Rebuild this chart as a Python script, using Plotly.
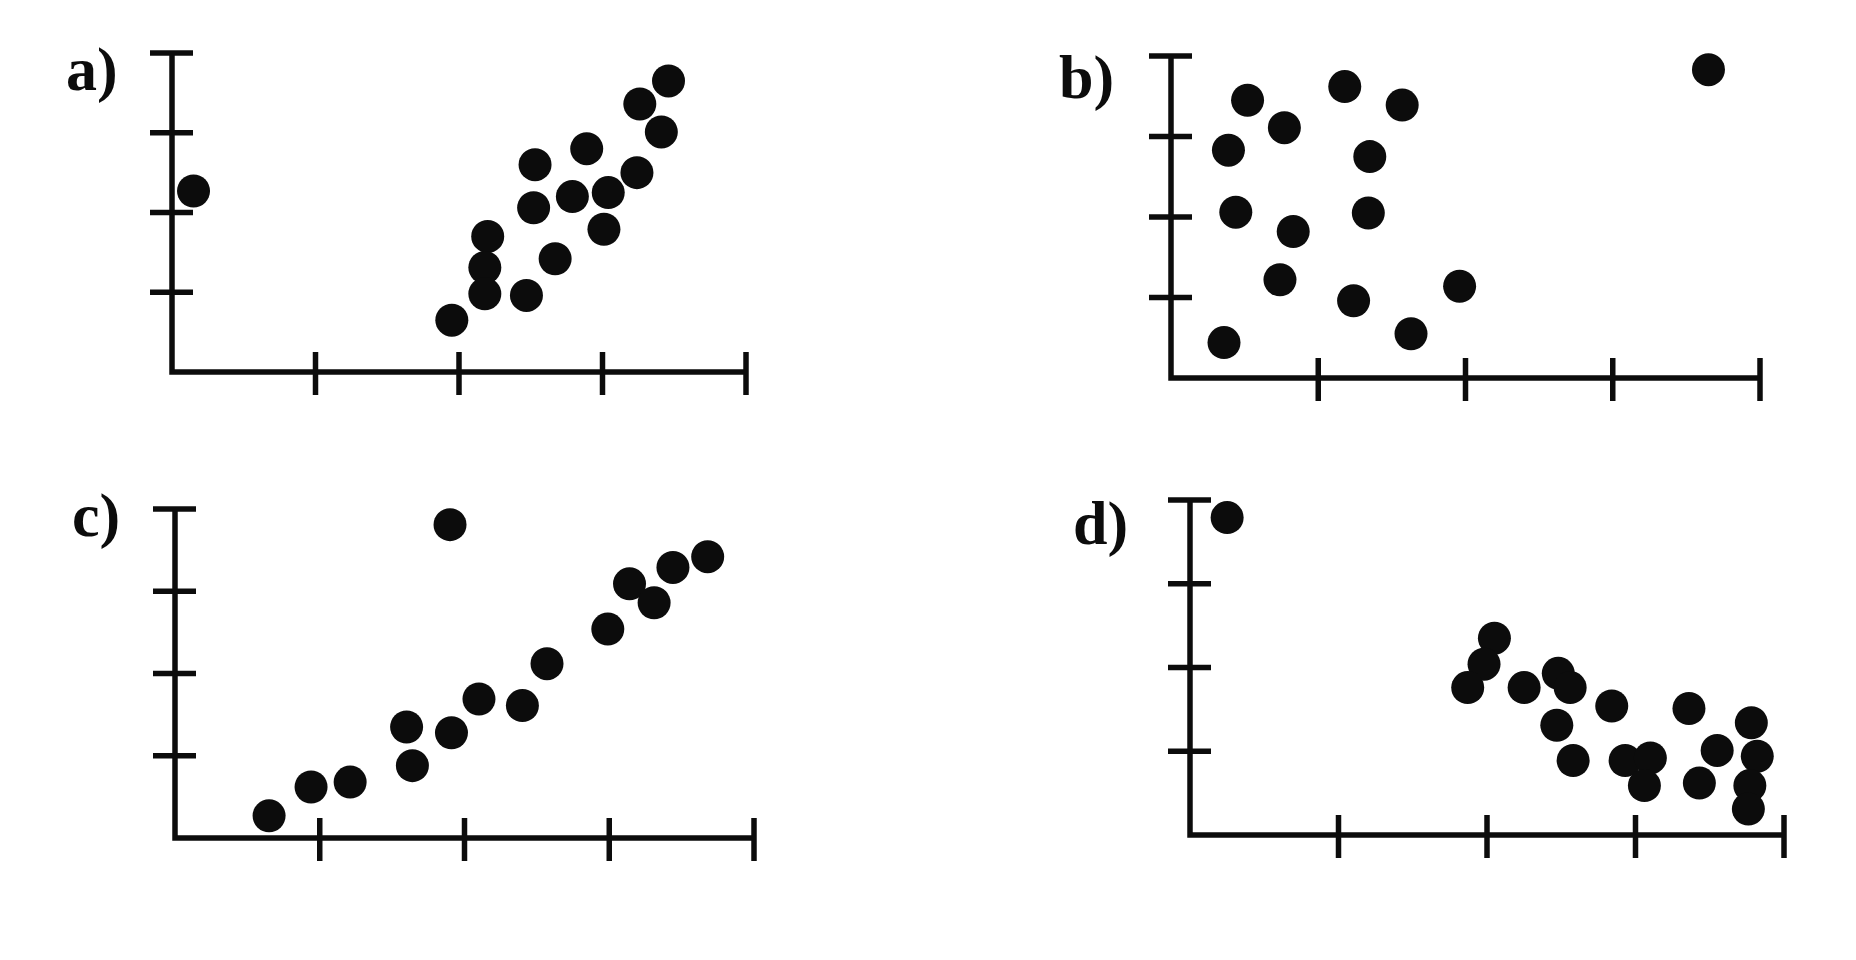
import plotly.graph_objects as go

W, H = 1856, 960

# ---- data (axis units: ticks at 1..4) ----
a_x = [0.15, 3.46, 3.26, 3.41, 2.89, 2.53, 3.24, 3.04, 2.79, 2.52, 3.01, 2.20, 2.67, 2.18, 2.18, 2.47, 1.95]
a_y = [2.27, 3.65, 3.36, 3.01, 2.80, 2.60, 2.50, 2.25, 2.20, 2.06, 1.79, 1.70, 1.42, 1.31, 0.98, 0.96, 0.65]

b_x = [3.65, 0.52, 1.18, 1.57, 0.77, 0.39, 1.35, 0.44, 1.34, 0.83, 0.74, 1.96, 1.24, 1.63, 0.36]
b_y = [3.83, 3.45, 3.62, 3.39, 3.11, 2.83, 2.75, 2.06, 2.05, 1.82, 1.22, 1.14, 0.96, 0.55, 0.44]

c_x = [1.90, 3.68, 3.44, 3.14, 3.31, 2.99, 2.57, 2.10, 2.40, 1.60, 1.91, 1.64, 1.21, 0.94, 0.65]
c_y = [3.81, 3.42, 3.29, 3.09, 2.86, 2.54, 2.12, 1.69, 1.61, 1.35, 1.28, 0.88, 0.68, 0.62, 0.27]

d_x = [0.25, 2.05, 1.98, 1.87, 2.25, 2.48, 2.56, 2.84, 2.47, 2.58, 2.93, 3.10, 3.06, 3.36, 3.55, 3.43, 3.78, 3.82, 3.77, 3.76]
d_y = [3.79, 2.35, 2.04, 1.76, 1.76, 1.93, 1.76, 1.54, 1.31, 0.89, 0.89, 0.92, 0.59, 1.51, 1.01, 0.62, 1.34, 0.94, 0.59, 0.31]

tick_vals = [1, 2, 3, 4]
labels = ["a)", "b)", "c)", "d)"]

# ---- layout geometry (pixels: x of origin, x of last tick, y of origin, y of top tick) ----
panels = [
    dict(x=a_x, y=a_y, geo=(172, 746, 372, 53), lab=(64, 70)),
    dict(x=b_x, y=b_y, geo=(1171, 1760, 378, 56), lab=(1057, 77)),
    dict(x=c_x, y=c_y, geo=(175, 754, 838, 509), lab=(70, 515)),
    dict(x=d_x, y=d_y, geo=(1190, 1784, 835, 500), lab=(1071, 523)),
]

XR = (-0.4, 4.3)
YR = (-0.45, 4.3)
INK = "#0c0c0c"
LW = 5.5

fig = go.Figure()
shapes = []
annotations = []
layout = {}

for i, p in enumerate(panels):
    n = "" if i == 0 else str(i + 1)
    xa, ya = "x" + n, "y" + n
    x0p, x4p, y0p, y4p = p["geo"]
    ux = (x4p - x0p) / 4.0
    uy = (y0p - y4p) / 4.0
    left = x0p + XR[0] * ux
    right = x0p + XR[1] * ux
    bottom = y0p - YR[0] * uy
    top = y0p - YR[1] * uy
    axcommon = dict(showgrid=False, zeroline=False, showline=False, showticklabels=False, ticks="", fixedrange=True)
    layout["xaxis" + n] = dict(domain=[left / W, right / W], range=list(XR), anchor=ya, **axcommon)
    layout["yaxis" + n] = dict(domain=[1 - bottom / H, 1 - top / H], range=list(YR), anchor=xa, **axcommon)

    fig.add_trace(go.Scatter(
        x=p["x"], y=p["y"], mode="markers", xaxis=xa, yaxis=ya,
        marker=dict(size=33, color=INK, line=dict(width=0)),
        cliponaxis=False, hoverinfo="skip", showlegend=False))

    tmax = max(tick_vals)
    shapes.append(dict(type="path", xref=xa, yref=ya,
                       path=f"M 0 {tmax} L 0 0 L {tmax} 0",
                       line=dict(color=INK, width=LW)))
    for t in tick_vals:
        shapes.append(dict(type="line", xref=xa, yref=ya, xsizemode="pixel", xanchor=0,
                           x0=-22, x1=21, y0=t, y1=t, line=dict(color=INK, width=LW)))
        shapes.append(dict(type="line", xref=xa, yref=ya, ysizemode="pixel", yanchor=0,
                           y0=-23, y1=20, x0=t, x1=t, line=dict(color=INK, width=LW)))

    lx, ly = p["lab"]
    annotations.append(dict(text=labels[i], xref="paper", yref="paper", x=lx / W, y=1 - ly / H,
                            xanchor="left", yanchor="middle", showarrow=False,
                            font=dict(family="Liberation Serif", size=62, color=INK, weight="bold")))

fig.update_layout(
    width=W, height=H,
    margin=dict(l=0, r=0, t=0, b=0),
    paper_bgcolor="white", plot_bgcolor="rgba(0,0,0,0)",
    shapes=shapes, annotations=annotations,
    **layout)

fig.write_html("out.html", config={"displayModeBar": False},
               post_script="document.body.style.margin='0';document.body.style.overflow='hidden';")
